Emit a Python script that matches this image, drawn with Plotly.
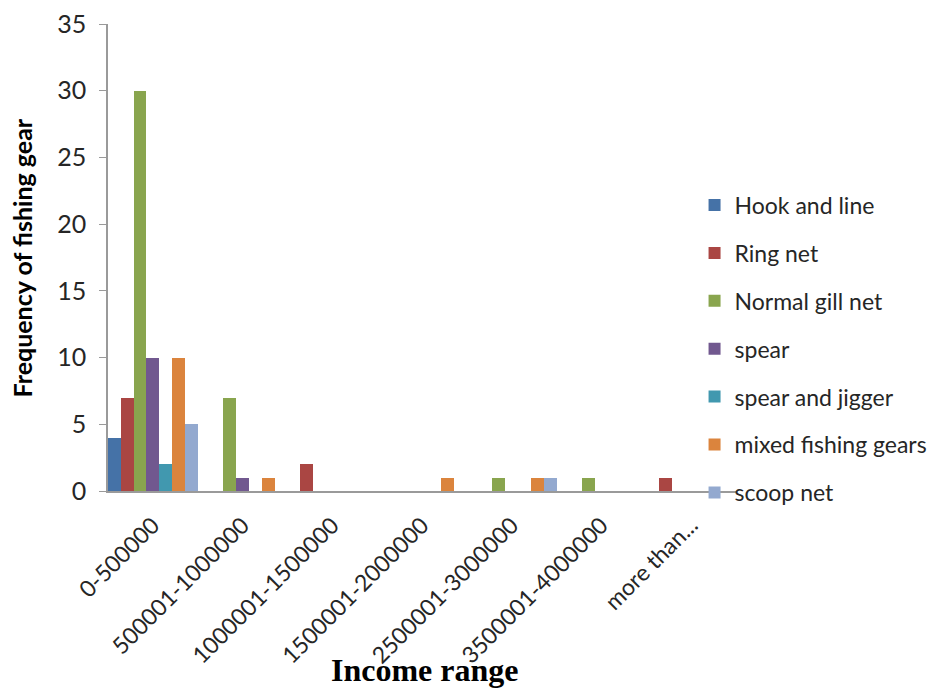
import plotly.graph_objects as go

# Income ranges on the category axis
income_ranges = ["0-500000", "500001-1000000", "1000001-1500000", "1500001-2000000",
                 "2500001-3000000", "3500001-4000000", "more than..."]

# Frequency of each fishing gear per income range
hook_and_line = [4, 0, 0, 0, 0, 0, 0]
ring_net = [7, 0, 2, 0, 0, 0, 1]
normal_gill_net = [30, 7, 0, 0, 1, 1, 0]
spear = [10, 1, 0, 0, 0, 0, 0]
spear_and_jigger = [2, 0, 0, 0, 0, 0, 0]
mixed_fishing_gears = [10, 1, 0, 1, 1, 0, 0]
scoop_net = [5, 0, 0, 0, 1, 0, 0]

series = [
    ("Hook and line", hook_and_line, "#4572A7"),
    ("Ring net", ring_net, "#AA4643"),
    ("Normal gill net", normal_gill_net, "#89A54E"),
    ("spear", spear, "#71588F"),
    ("spear and jigger", spear_and_jigger, "#4198AF"),
    ("mixed fishing gears", mixed_fishing_gears, "#DB843D"),
    ("scoop net", scoop_net, "#93A9CF"),
]

fig = go.Figure()
for i, (name, vals, color) in enumerate(series):
    fig.add_trace(go.Bar(
        x=income_ranges, y=vals, name=name,
        marker=dict(color=color, line=dict(width=0)),
        legendgroup=f"g{i}",
    ))

axis_grey = "#9A9A9A"
text_col = "#262626"
fig.update_layout(
    width=938, height=691,
    margin=dict(l=108, r=202, t=24, b=200, autoexpand=False),
    paper_bgcolor="white", plot_bgcolor="white",
    barmode="group", bargap=0, bargroupgap=0,
    font=dict(family="Lato, Open Sans, sans-serif", color=text_col),
    showlegend=True,
    legend=dict(
        x=0.934, y=0.304, xanchor="left", yanchor="middle",
        font=dict(size=23, family="Lato, sans-serif", color=text_col),
        tracegroupgap=15, bgcolor="rgba(0,0,0,0)",
    ),
    xaxis=dict(
        automargin=False,
        showline=True, linecolor=axis_grey, linewidth=1.5,
        ticks="", tickangle=-45, ticklabelstandoff=10,
        tickfont=dict(size=23, family="Lato, sans-serif", color=text_col),
        showgrid=False,
    ),
    yaxis=dict(
        automargin=False,
        range=[0, 35], dtick=5, showline=True, linecolor=axis_grey, linewidth=1.5,
        ticks="outside", ticklen=7, tickcolor=axis_grey, ticklabelstandoff=8,
        tickfont=dict(size=25, family="Lato, sans-serif", color=text_col),
        showgrid=False, zeroline=False,
    ),
    annotations=[
        dict(text="<b>Frequency of fishing gear</b>", x=-0.137, y=0.5,
             xref="paper", yref="paper", textangle=-90, showarrow=False,
             xanchor="center", yanchor="middle",
             font=dict(size=25, family="Lato, sans-serif", color="#000000")),
        dict(text="<b>Income range</b>", x=0.505, y=-0.384,
             xref="paper", yref="paper", showarrow=False,
             xanchor="center", yanchor="middle",
             font=dict(size=32, family="Liberation Serif, Times New Roman, serif",
                       color="#000000")),
    ],
)

fig.write_html("out.html")
